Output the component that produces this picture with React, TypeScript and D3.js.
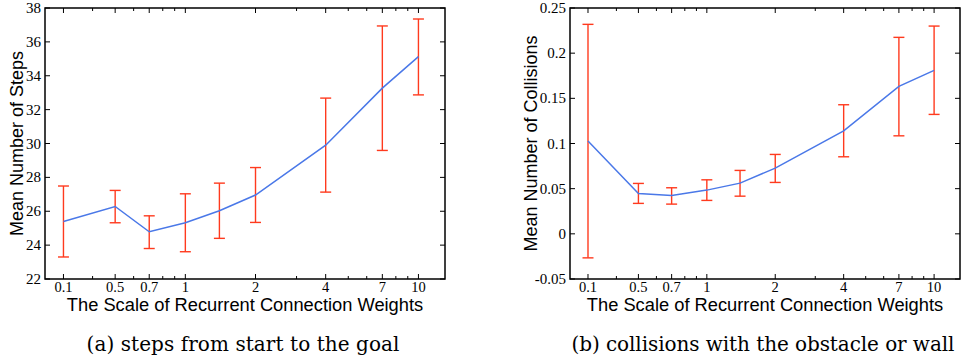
import React, { useRef, useEffect } from 'react';
import * as d3 from 'd3';

// plotted x positions (log axis); the first point is drawn at 0.3 but labelled 0.1
const weights = [0.3, 0.5, 0.7, 1, 1.4, 2, 4, 7, 10];
const xTickValues = [0.3, 0.5, 0.7, 1, 2, 4, 7, 10];
const xTickLabels = ['0.1', '0.5', '0.7', '1', '2', '4', '7', '10'];
const xMinorTicks = [0.4, 0.6, 0.8, 0.9, 3, 5, 6, 8, 9];

const stepsMean = [25.4, 26.28, 24.79, 25.32, 26.03, 26.96, 29.9, 33.27, 35.13];
const stepsLow = [23.3, 25.32, 23.8, 23.61, 24.4, 25.34, 27.13, 29.59, 32.87];
const stepsHigh = [27.49, 27.23, 25.73, 27.03, 27.66, 28.58, 32.68, 36.94, 37.35];
const stepsTicks = [22, 24, 26, 28, 30, 32, 34, 36, 38];

const collMean = [0.1027, 0.0447, 0.0425, 0.0484, 0.0561, 0.0728, 0.114, 0.1632, 0.181];
const collLow = [-0.0266, 0.0337, 0.0329, 0.037, 0.0417, 0.0569, 0.0853, 0.1085, 0.1322];
const collHigh = [0.2319, 0.0558, 0.051, 0.0598, 0.0702, 0.0879, 0.1429, 0.2175, 0.23];
const collTicks = [-0.05, 0, 0.05, 0.1, 0.15, 0.2, 0.25];

interface PanelSpec {
  left: number;
  right: number;
  mean: number[];
  low: number[];
  high: number[];
  yDomain: [number, number];
  yTicks: number[];
  yTitle: string;
  yTitleX: number;
  caption: string;
  captionWidth: number;
}

const panels: PanelSpec[] = [
  {
    left: 45, right: 445,
    mean: stepsMean, low: stepsLow, high: stepsHigh,
    yDomain: [22, 38], yTicks: stepsTicks,
    yTitle: 'Mean Number of Steps', yTitleX: 23,
    caption: '(a) steps from start to the goal', captionWidth: 313,
  },
  {
    left: 570, right: 960,
    mean: collMean, low: collLow, high: collHigh,
    yDomain: [-0.05, 0.25], yTicks: collTicks,
    yTitle: 'Mean Number of Collisions', yTitleX: 537,
    caption: '(b) collisions with the obstacle or wall', captionWidth: 383,
  },
];

const TOP = 8;
const BOTTOM = 279;
const SERIF = 'Liberation Serif, DejaVu Serif, serif';
const CAPTION_FONT = 'DejaVu Serif, Liberation Serif, serif';
const SANS = 'Liberation Sans, Arial, sans-serif';

const App: React.FC = () => {
  const svgRef = useRef<SVGSVGElement | null>(null);

  useEffect(() => {
    if (!svgRef.current) return;
    const svg = d3.select(svgRef.current);
    svg.selectAll('*').remove();

    panels.forEach(p => {
      const x = d3.scaleLog().domain([0.25, 13]).range([p.left, p.right]);
      const y = d3.scaleLinear().domain(p.yDomain).range([BOTTOM, TOP]);
      const g = svg.append('g');

      // ticks (inward, on all four sides)
      xTickValues.forEach(v => {
        g.append('line').attr('x1', x(v)).attr('x2', x(v)).attr('y1', BOTTOM).attr('y2', BOTTOM - 5).attr('stroke', '#000');
        g.append('line').attr('x1', x(v)).attr('x2', x(v)).attr('y1', TOP).attr('y2', TOP + 5).attr('stroke', '#000');
      });
      xMinorTicks.forEach(v => {
        g.append('line').attr('x1', x(v)).attr('x2', x(v)).attr('y1', BOTTOM).attr('y2', BOTTOM - 3).attr('stroke', '#000');
        g.append('line').attr('x1', x(v)).attr('x2', x(v)).attr('y1', TOP).attr('y2', TOP + 3).attr('stroke', '#000');
      });
      p.yTicks.forEach(v => {
        g.append('line').attr('x1', p.left).attr('x2', p.left + 5).attr('y1', y(v)).attr('y2', y(v)).attr('stroke', '#000');
        g.append('line').attr('x1', p.right).attr('x2', p.right - 5).attr('y1', y(v)).attr('y2', y(v)).attr('stroke', '#000');
      });

      // tick labels
      g.selectAll('text.xt')
        .data(xTickValues)
        .enter().append('text')
        .attr('x', d => x(d))
        .attr('y', 292)
        .attr('text-anchor', 'middle')
        .attr('font-family', SERIF)
        .attr('font-size', 14.5)
        .text((d, i) => xTickLabels[i]);

      g.selectAll('text.yt')
        .data(p.yTicks)
        .enter().append('text')
        .attr('x', p.left - 4)
        .attr('y', d => y(d) + 5)
        .attr('text-anchor', 'end')
        .attr('font-family', SERIF)
        .attr('font-size', 15)
        .text(d => String(+d.toFixed(2)));

      // error bars
      weights.forEach((w, i) => {
        const cx = x(w);
        g.append('line').attr('x1', cx).attr('x2', cx).attr('y1', y(p.low[i])).attr('y2', y(p.high[i]))
          .attr('stroke', '#ff3a1e').attr('stroke-width', 1.4);
        [p.low[i], p.high[i]].forEach(v => {
          g.append('line').attr('x1', cx - 5.5).attr('x2', cx + 5.5).attr('y1', y(v)).attr('y2', y(v))
            .attr('stroke', '#ff3a1e').attr('stroke-width', 1.4);
        });
      });

      // mean line
      const line = d3.line<number>()
        .x((d, i) => x(weights[i]))
        .y(d => y(d));
      g.append('path')
        .attr('d', line(p.mean))
        .attr('fill', 'none')
        .attr('stroke', '#4a78e8')
        .attr('stroke-width', 1.5);

      // frame
      g.append('rect')
        .attr('x', p.left).attr('y', TOP)
        .attr('width', p.right - p.left).attr('height', BOTTOM - TOP)
        .attr('fill', 'none').attr('stroke', '#000').attr('stroke-width', 1.5);

      // axis titles
      g.append('text')
        .attr('transform', `translate(${p.yTitleX},${(TOP + BOTTOM) / 2}) rotate(-90)`)
        .attr('text-anchor', 'middle')
        .attr('font-family', SANS)
        .attr('font-size', 18)
        .text(p.yTitle);

      g.append('text')
        .attr('x', (p.left + p.right) / 2)
        .attr('y', 311)
        .attr('text-anchor', 'middle')
        .attr('font-family', SANS)
        .attr('font-size', 18.3)
        .text('The Scale of Recurrent Connection Weights');

      g.append('text')
        .attr('x', (p.left + p.right) / 2 - 2)
        .attr('y', 351)
        .attr('text-anchor', 'middle')
        .attr('font-family', CAPTION_FONT)
        .attr('font-size', 20)
        .attr('textLength', p.captionWidth)
        .attr('lengthAdjust', 'spacing')
        .text(p.caption);
    });
  }, []);

  return (
    <svg ref={svgRef} width={963} height={358}
      style={{ position: 'absolute', left: 0, top: 0, background: '#fff' }} />
  );
};

export default App;
